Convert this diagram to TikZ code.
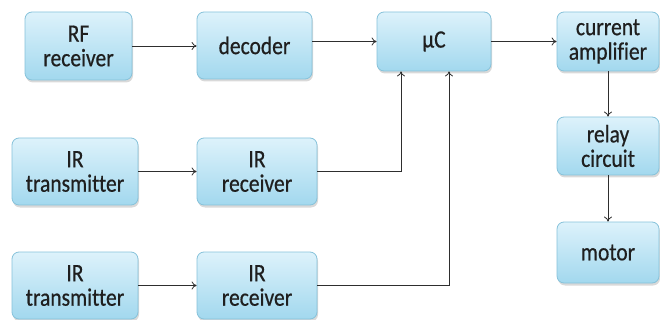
\documentclass[tikz,border=0pt]{standalone}
\usepackage{fontspec}
\setmainfont{Carlito}[FakeStretch=0.86, FakeBold=0.6, Ligatures=NoCommon]
\usepackage{xcolor}
\usepackage{tikz}
\usetikzlibrary{shadows,arrows.meta}

\definecolor{boxtop}{HTML}{DDF2FB}
\definecolor{boxbot}{HTML}{A2D8EE}
\definecolor{boxline}{HTML}{86C2DA}
\definecolor{wire}{HTML}{2E2E2E}

\begin{document}
\begin{tikzpicture}[x=1pt, y=-1pt,
    blockbox/.style={draw=boxline, line width=0.8pt, rounded corners=7pt,
        top color=boxtop, bottom color=boxbot,
        drop shadow={shadow xshift=1pt, shadow yshift=-2.5pt, opacity=0.3},
        align=center, inner sep=1pt, font=\fontsize{25}{24.5}\selectfont,
        text=black!88},
    wirearrow/.style={draw=wire, line width=0.8pt, -{To[length=5pt,width=8pt]}}]
    \useasboundingbox (0,0) rectangle (660,320);

    \node[blockbox, minimum width=107pt, minimum height=68pt] (rf) at (78.5,46) {RF\\receiver};
    \node[blockbox, minimum width=115pt, minimum height=67pt] (dec) at (254.5,45.5) {decoder};
    \node[blockbox, minimum width=114pt, minimum height=59pt] (uc) at (434,41.5) {µC};
    \node[blockbox, minimum width=102pt, minimum height=59pt] (amp) at (608,41.5) {current\\amplifier};
    \node[blockbox, minimum width=102pt, minimum height=58pt] (relay) at (608,146) {relay\\circuit};
    \node[blockbox, minimum width=102pt, minimum height=61pt] (motor) at (608,252.5) {motor};

    \node[blockbox, minimum width=126pt, minimum height=67pt] (irtA) at (75,171.5) {IR\\transmitter};
    \node[blockbox, minimum width=120pt, minimum height=67pt] (irrA) at (257,171.5) {IR\\receiver};
    \node[blockbox, minimum width=126pt, minimum height=67pt] (irtB) at (75,285.5) {IR\\transmitter};
    \node[blockbox, minimum width=120pt, minimum height=67pt] (irrB) at (257,285.5) {IR\\receiver};

    \draw[wirearrow] (rf.east) -- (dec.west |- rf.east);
    \draw[wirearrow] (dec.east |- uc.west) -- (uc.west);
    \draw[wirearrow] (uc.east) -- (amp.west);
    \draw[wirearrow] (amp.south) -- (relay.north);
    \draw[wirearrow] (relay.south) -- (motor.north);

    \draw[wirearrow] (irtA.east) -- (irrA.west);
    \draw[wirearrow] (irtB.east) -- (irrB.west);
    \draw[wirearrow] (irrA.east) -| ([xshift=-33pt]uc.south);
    \draw[wirearrow] (irrB.east) -| ([xshift=15pt]uc.south);
\end{tikzpicture}
\end{document}
